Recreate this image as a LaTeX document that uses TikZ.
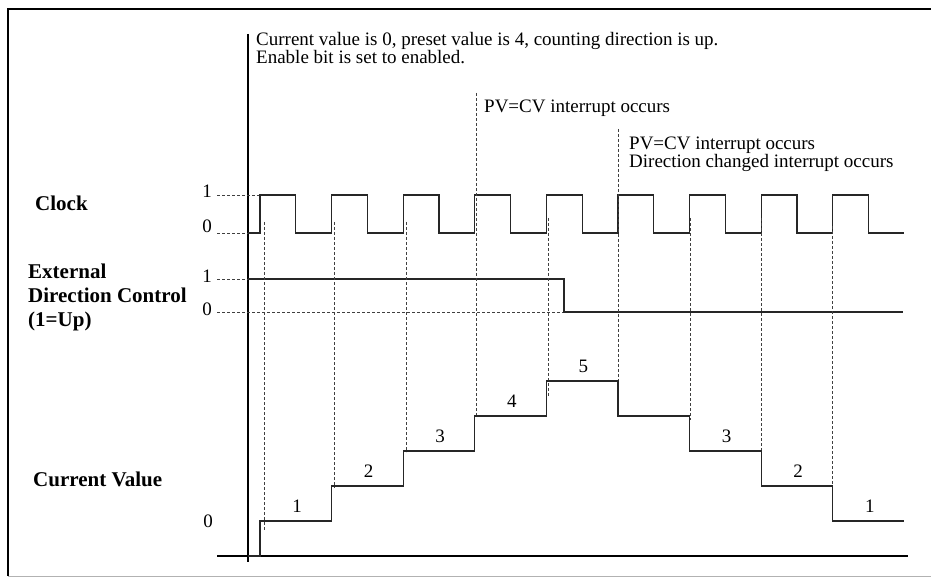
\documentclass[tikz,border=0pt]{standalone}
\usepackage{fontspec}
\setmainfont{Liberation Serif}
\usetikzlibrary{positioning}

\tikzset{
  sig/.style={black!85, line width=1.1pt},
  axisln/.style={black, line width=1.5pt},
  guide/.style={black!75, densely dashed, line width=0.6pt},
  lvl/.style={font=\fontsize{19}{19}\selectfont, inner sep=0pt, anchor=base},
  note/.style={font=\fontsize{19}{18}\selectfont, align=left, inner sep=0pt, anchor=base west},
  rowlbl/.style={font=\fontsize{21}{24}\selectfont\bfseries, align=left, inner sep=0pt, anchor=base west},
}

\begin{document}
\begin{tikzpicture}[x=1pt, y=-1pt]
\useasboundingbox (0,0) rectangle (931,577);

% Frame
\draw[line width=1.2pt] (931,9) -- (8,9) -- (8,576);
\draw[gray!60, line width=0.8pt] (8,576) -- (931,576);

% Axes
\draw[axisln] (248,34) -- (248,562);
\draw[axisln, line width=1.2pt] (217,556) -- (908,556);

% Row labels (base = last line)
\node[rowlbl] (clklbl) at (35,211) {Clock};
\node[rowlbl] (dirlbl) at (28,326) {External\\Direction Control\\(1=Up)};
\node[rowlbl] (cvlbl)  at (33,486) {Current Value};

% Level marks
\node[lvl] (clkhi) at (207,198) {1};
\node[lvl] (clklo) at (207,233) {0};
\node[lvl] (dirhi) at (207,282) {1};
\node[lvl] (dirlo) at (207,315) {0};
\node[lvl] (cvlo)  at (208,527) {0};
\draw[guide] (217,195) -- (260,195);
\draw[guide] (217,233) -- (248,233);
\draw[guide] (217,279) -- (248,279);
\draw[guide] (217,312) -- (564,312);

% Clock: rising edges at 260 + 71.6k
\draw[sig] (248,233) -- (260,233)
  \foreach \k in {0,...,8}{
    -- ({260+71.6*\k},195) -- ({295.8+71.6*\k},195)
    -- ({295.8+71.6*\k},233) -- ({331.6+71.6*\k},233)};

% External direction control
\draw[sig] (248,279) -- (564,279) -- (564,312) -- (903,312);

% Guides from clock edges down to the count
\foreach \x/\ya/\yb in {264/222/530, 334/222/488, 406/222/452, 476/93/416,
  548/218/396, 618/129/388, 690/218/420, 761/218/452, 832/226/486}{
  \draw[guide] (\x,\ya) -- (\x,\yb);
}

% Current value staircase
\draw[sig] (248,556) -- (260,556)
  \foreach \k/\v in {0/1, 1/2, 2/3, 3/4, 4/5, 5/4, 6/3, 7/2, 8/1}{
    -- ({260+71.6*\k},{556-35*\v}) -- ({331.6+71.6*\k},{556-35*\v})};
\foreach \k/\v in {0/1, 1/2, 2/3, 3/4, 4/5, 6/3, 7/2, 8/1}{
  \node[lvl] (cv\k) at ({297+71.6*\k},{547-35*\v}) {\v};
}

% Notes (base = last line)
\node[note] (start) at (256,64)
  {Current value is 0, preset value is 4, counting direction is up.\\Enable bit is set to enabled.};
\node[note] (pvcv)  at (484,113) {PV=CV interrupt occurs};
\node[note] (pvdir) at (629,168)
  {PV=CV interrupt occurs\\Direction changed interrupt occurs};

\end{tikzpicture}
\end{document}
